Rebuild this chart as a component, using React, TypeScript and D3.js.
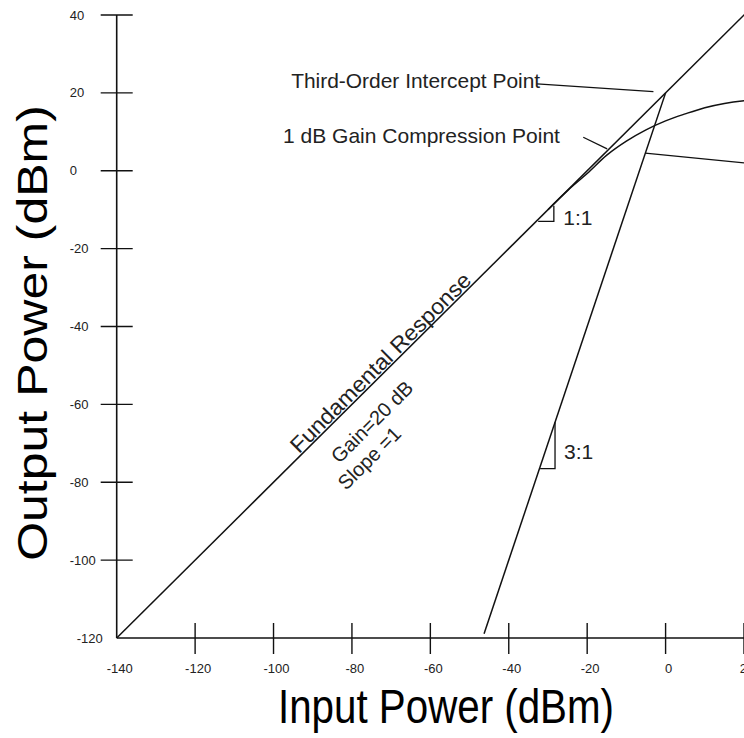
import React, { useEffect, useRef } from "react";
import * as d3 from "d3";

// tick values
const inputTicks = [-120, -100, -80, -60, -40, -20, 0, 20];
const outputTicks = [40, 20, 0, -20, -40, -60, -80, -100];
const inputTickLabels = [-140, -120, -100, -80, -60, -40, -20, 0, 20];
const outputTickLabels = [40, 20, 0, -20, -40, -60, -80, -100, -120];

// fundamental response (gain 20 dB, slope 1)
const fundamentalIn = [-140, 24];
const fundamentalOut = [-120, 44];

// third-order response (slope 3)
const thirdOrderIn = [-46.3, 0];
const thirdOrderOut = [-118.9, 20];

// compressed fundamental
const compressionIn = [-30, -25, -20, -15, -10, -5, 0, 5, 10, 15, 20, 22];
const compressionOut = [-10, -5.1, -0.7, 4.0, 7.6, 10.5, 12.8, 14.6, 16.2, 17.3, 18.0, 18.2];

const FONT = "'Liberation Sans', Arial, sans-serif";
const W = 744,
  H = 738;

function App() {
  const ref = useRef<SVGSVGElement>(null);

  useEffect(() => {
    const svg = d3.select(ref.current);
    svg.selectAll("*").remove();

    const x = d3.scaleLinear().domain([-140, 20]).range([116.7, 744]);
    const y = d3.scaleLinear().domain([-120, 40]).range([638, 15]);

    const ink = "#111";
    const textInk = "#222";

    // axes
    svg
      .append("line")
      .attr("x1", x(-140))
      .attr("x2", x(-140))
      .attr("y1", y(40))
      .attr("y2", y(-120))
      .attr("stroke", ink)
      .attr("stroke-width", 1.6);
    svg
      .append("line")
      .attr("x1", x(-140))
      .attr("x2", W)
      .attr("y1", y(-120))
      .attr("y2", y(-120))
      .attr("stroke", ink)
      .attr("stroke-width", 1.6);

    svg
      .selectAll(".ytick")
      .data(outputTicks)
      .enter()
      .append("line")
      .attr("x1", x(-140) - 16)
      .attr("x2", x(-140) + 16)
      .attr("y1", (d) => y(d))
      .attr("y2", (d) => y(d))
      .attr("stroke", ink)
      .attr("stroke-width", 1.4);
    svg
      .selectAll(".xtick")
      .data(inputTicks)
      .enter()
      .append("line")
      .attr("x1", (d) => x(d))
      .attr("x2", (d) => x(d))
      .attr("y1", y(-120) - 15)
      .attr("y2", y(-120) + 16)
      .attr("stroke", ink)
      .attr("stroke-width", 1.4);

    svg
      .selectAll(".ylab")
      .data(outputTickLabels)
      .enter()
      .append("text")
      .attr("x", (d) => (d === -120 ? x(-140) - 40 : x(-140) - 47))
      .attr("y", (d) => y(d))
      .attr("dy", "0.35em")
      .attr("font-family", FONT)
      .attr("font-size", 13)
      .attr("fill", textInk)
      .text((d) => d);
    svg
      .selectAll(".xlab")
      .data(inputTickLabels)
      .enter()
      .append("text")
      .attr("x", (d) => x(d) + 3)
      .attr("y", 673)
      .attr("text-anchor", "middle")
      .attr("font-family", FONT)
      .attr("font-size", 13)
      .attr("fill", textInk)
      .text((d) => d);

    // axis titles
    svg
      .append("text")
      .attr("x", 446)
      .attr("y", 723)
      .attr("text-anchor", "middle")
      .attr("font-family", FONT)
      .attr("font-size", 48)
      .attr("textLength", 336)
      .attr("lengthAdjust", "spacingAndGlyphs")
      .attr("fill", "#000")
      .text("Input Power (dBm)");
    svg
      .append("text")
      .attr("transform", "translate(47,333) scale(0.86,1) rotate(-90)")
      .attr("text-anchor", "middle")
      .attr("font-family", FONT)
      .attr("font-size", 50)
      .attr("fill", "#000")
      .text("Output Power (dBm)");

    const drawSeries = (xs: number[], ys: number[], curve = d3.curveLinear) => {
      const pts = xs.map((v, i) => [v, ys[i]]);
      svg
        .append("path")
        .datum(pts)
        .attr("fill", "none")
        .attr("stroke", ink)
        .attr("stroke-width", 1.5)
        .attr(
          "d",
          d3
            .line<number[]>()
            .x((d) => x(d[0]))
            .y((d) => y(d[1]))
            .curve(curve)
        );
    };

    drawSeries(fundamentalIn, fundamentalOut);
    drawSeries(thirdOrderIn, thirdOrderOut);
    drawSeries(compressionIn, compressionOut, d3.curveMonotoneX);

    // leader lines and slope markers
    const leaders = [
      [[-32.8, 22.3], [-3.1, 20.3]],
      [[-21, 8.6], [-14.9, 5.6]],
      [[-5.2, 4.5], [20, 2.0]],
      [[-32.5, -13], [-28.5, -13], [-28.5, -9]],
      [[-32, -76.5], [-28.2, -76.5], [-28.2, -64.6]],
    ];
    leaders.forEach((pts) => {
      svg
        .append("path")
        .datum(pts)
        .attr("fill", "none")
        .attr("stroke", ink)
        .attr("stroke-width", 1.3)
        .attr(
          "d",
          d3
            .line<number[]>()
            .x((d) => x(d[0]))
            .y((d) => y(d[1]))
        );
    });

    const labels = [
      { t: "Third-Order Intercept Point", at: [-95.5, 21.25], len: 249 },
      { t: "1 dB Gain Compression Point", at: [-97.6, 7.1], len: 277 },
      { t: "1:1", at: [-26.1, -13.9], len: 0 },
      { t: "3:1", at: [-25.9, -74], len: 0 },
    ];
    labels.forEach((l) => {
      const tx = svg
        .append("text")
        .attr("x", x(l.at[0]))
        .attr("y", y(l.at[1]))
        .attr("font-family", FONT)
        .attr("font-size", 21)
        .attr("fill", textInk)
        .text(l.t);
      if (l.len) tx.attr("textLength", l.len).attr("lengthAdjust", "spacingAndGlyphs");
    });

    // rotated annotations along the fundamental
    const angle =
      (Math.atan2(y(0) - y(-100), x(-100) - x(-200)) * 180) / Math.PI;
    const rotated = [
      { t: "Fundamental Response", at: [-71, -51], dy: -2, size: 22, len: 245, base: "auto" },
      { t: "Gain=20 dB", at: [-74.9, -64.5], dy: 0, size: 20, len: 0, base: "central" },
      { t: "Slope =1", at: [-75.6, -73.8], dy: 0, size: 20, len: 0, base: "central" },
    ];
    rotated.forEach((r) => {
      const tx = svg
        .append("text")
        .attr(
          "transform",
          `translate(${x(r.at[0])},${y(r.at[1])}) rotate(${angle})`
        )
        .attr("y", r.dy)
        .attr("text-anchor", "middle")
        .attr("dominant-baseline", r.base)
        .attr("font-family", FONT)
        .attr("font-size", r.size)
        .attr("fill", textInk)
        .text(r.t);
      if (r.len) tx.attr("textLength", r.len).attr("lengthAdjust", "spacingAndGlyphs");
    });
  }, []);

  return (
    <svg
      ref={ref}
      width={W}
      height={H}
      style={{ position: "absolute", left: 0, top: 0, background: "#fff" }}
    />
  );
}

export default App;
